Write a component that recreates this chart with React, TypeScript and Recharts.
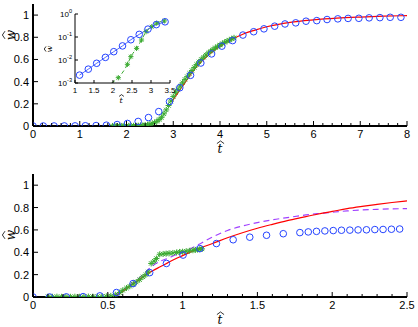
import React from 'react';
import { ComposedChart, Scatter, Line, XAxis, YAxis } from 'recharts';

// ---------- top panel data ----------
const topCircleT = [0, 0.22, 0.45, 0.67, 0.9, 1.12, 1.35, 1.57, 1.8, 2.02, 2.25, 2.47, 2.69, 2.92, 3.14, 3.37, 3.59, 3.82, 4.04, 4.27, 4.49, 4.72, 4.94, 5.17, 5.39, 5.62, 5.84, 6.07, 6.29, 6.52, 6.74, 6.97, 7.19, 7.42, 7.64, 7.87];
const topCircleW = [0, 0, 0.0003, 0.0006, 0.001, 0.0022, 0.004, 0.0072, 0.013, 0.023, 0.041, 0.076, 0.13, 0.22, 0.345, 0.457, 0.568, 0.65, 0.72, 0.77, 0.82, 0.85, 0.876, 0.9, 0.92, 0.93, 0.945, 0.95, 0.96, 0.966, 0.97, 0.971, 0.975, 0.977, 0.98, 0.98];

const topGreenT = [1.7, 1.75, 1.8, 1.85, 1.9, 1.95, 2.0, 2.05, 2.1, 2.15, 2.2, 2.25, 2.3, 2.35, 2.4, 2.45, 2.5, 2.55, 2.6, 2.65, 2.7, 2.75, 2.8, 2.85, 2.9, 2.95, 3.0, 3.05, 3.1, 3.15, 3.2, 3.25, 3.3, 3.35, 3.4, 3.45, 3.5, 3.55, 3.6, 3.65, 3.7, 3.75, 3.8, 3.85, 3.9, 3.95, 4.0, 4.05, 4.1, 4.15, 4.2, 4.25, 4.3];
const topGreenW = [0.0003, 0.0004, 0.0005, 0.0006, 0.0008, 0.0009, 0.0011, 0.0013, 0.0015, 0.0019, 0.0025, 0.0032, 0.0042, 0.0055, 0.0075, 0.011, 0.016, 0.022, 0.03, 0.042, 0.058, 0.078, 0.11, 0.145, 0.185, 0.225, 0.265, 0.3, 0.33, 0.36, 0.39, 0.42, 0.445, 0.475, 0.5, 0.528, 0.555, 0.578, 0.6, 0.62, 0.64, 0.658, 0.675, 0.69, 0.705, 0.718, 0.73, 0.743, 0.755, 0.765, 0.775, 0.785, 0.795];

const topRedT = [2.97, 3.1, 3.2, 3.3, 3.4, 3.5, 3.6, 3.7, 3.8, 3.9, 4.0, 4.25, 4.5, 4.75, 5.0, 5.5, 6.0, 6.5, 7.0, 7.5, 8.0];
const topRedW = [0.22, 0.3, 0.36, 0.42, 0.48, 0.535, 0.58, 0.62, 0.655, 0.69, 0.72, 0.78, 0.83, 0.865, 0.895, 0.935, 0.957, 0.972, 0.982, 0.99, 0.995];

// inset (log scale) green
const insetGreenT = [1.96, 2.14, 2.38, 2.47, 2.62, 2.75, 2.87, 3.02, 3.15, 3.35];
const insetGreenW = [0.001, 0.0017, 0.0065, 0.014, 0.032, 0.074, 0.17, 0.28, 0.4, 0.5];

// ---------- bottom panel data ----------
const botCircleT = [0, 0.111, 0.223, 0.335, 0.447, 0.558, 0.669, 0.78, 0.892, 1.003, 1.115, 1.226, 1.338, 1.449, 1.561, 1.673, 1.784, 1.84, 1.895, 1.951, 2.007, 2.062, 2.118, 2.173, 2.229, 2.285, 2.34, 2.396, 2.451];
const botCircleW = [0, 0, 0.001, 0.003, 0.01, 0.04, 0.12, 0.218, 0.3, 0.375, 0.433, 0.478, 0.512, 0.535, 0.552, 0.566, 0.576, 0.582, 0.587, 0.591, 0.594, 0.597, 0.598, 0.6, 0.601, 0.603, 0.604, 0.606, 0.608];

const botGreenT = [0.1, 0.13, 0.16, 0.19, 0.22, 0.25, 0.28, 0.31, 0.34, 0.37, 0.4, 0.43, 0.46, 0.49, 0.52, 0.55, 0.58, 0.6, 0.625, 0.647, 0.67, 0.69, 0.713, 0.735, 0.755, 0.77, 0.79, 0.81, 0.825, 0.847, 0.87, 0.89, 0.91, 0.935, 0.96, 0.98, 1.0, 1.024, 1.045, 1.069, 1.085, 1.1, 1.115, 1.13];
const botGreenW = [0.003, 0.002, 0.003, 0.002, 0.003, 0.002, 0.003, 0.002, 0.003, 0.004, 0.003, 0.004, 0.005, 0.006, 0.01, 0.02, 0.04, 0.06, 0.08, 0.096, 0.115, 0.134, 0.155, 0.18, 0.2, 0.224, 0.3, 0.32, 0.344, 0.382, 0.385, 0.388, 0.391, 0.394, 0.398, 0.403, 0.405, 0.409, 0.413, 0.418, 0.421, 0.424, 0.427, 0.43];

const botRedT = [0.54, 0.6, 0.65, 0.7, 0.75, 0.8, 0.85, 0.9, 0.95, 1.0, 1.1, 1.2, 1.3, 1.4, 1.5, 1.6, 1.7, 1.8, 1.9, 2.0, 2.1, 2.2, 2.3, 2.4, 2.5];
const botRedW = [0, 0.05, 0.1, 0.145, 0.195, 0.235, 0.27, 0.305, 0.34, 0.37, 0.43, 0.478, 0.53, 0.575, 0.615, 0.65, 0.683, 0.712, 0.74, 0.765, 0.79, 0.81, 0.828, 0.845, 0.86];

const botDashT = [0, 0.25, 0.5, 0.55, 0.6, 0.65, 0.7, 0.75, 0.8, 0.85, 0.9, 0.95, 1.0, 1.1, 1.2, 1.3, 1.4, 1.5, 1.6, 1.7, 1.8, 1.9, 2.0, 2.1, 2.2, 2.3, 2.4, 2.5];
const botDashW = [0, 0, 0.002, 0.02, 0.06, 0.11, 0.16, 0.22, 0.28, 0.32, 0.345, 0.375, 0.4, 0.465, 0.537, 0.595, 0.635, 0.665, 0.69, 0.71, 0.73, 0.745, 0.758, 0.77, 0.778, 0.784, 0.788, 0.79];

// ---------- ticks ----------
const topXMajor = [0, 1, 2, 3, 4, 5, 6, 7, 8];
const topXLabels = ['0', '1', '2', '3', '4', '5', '6', '7', '8'];
const botXMajor = [0, 0.5, 1, 1.5, 2, 2.5];
const botXLabels = ['0', '0.5', '1', '1.5', '2', '2.5'];
const yMajor = [0, 0.2, 0.4, 0.6, 0.8, 1];
const yLabels = ['0', '0.2', '0.4', '0.6', '0.8', '1'];
const insetXMajor = [1, 1.5, 2, 2.5, 3, 3.5];
const insetXLabels = ['1', '1.5', '2', '2.5', '3', '3.5'];
const insetYMajor = [0.001, 0.01, 0.1, 1];
const insetYExp = ['-3', '-2', '-1', '0'];

const zip = (t: number[], w: number[]) => t.map((x, i) => ({ t: x, w: w[i] }));
const withMinor = (majors: number[], step: number) => {
  const out: number[] = [];
  const lo = majors[0];
  const hi = majors[majors.length - 1];
  const n = Math.round((hi - lo) / step);
  for (let i = 0; i <= n; i++) out.push(+(lo + i * step).toFixed(6));
  return out;
};

const BLUE = '#2443ff';
const GREEN = '#3aaa30';
const RED = '#ff0000';
const PURPLE = '#a040ff';
const FONT = '"Liberation Sans", Arial, sans-serif';

type TickOpts = {
  side: 'bottom' | 'top' | 'left' | 'right';
  majors: number[];
  labels?: string[];
  sup?: string[];
  fontSize?: number;
  major: number;
  minor: number;
  gap?: number;
};

const makeTick = (o: TickOpts) => (props: any) => {
  const { x, y, payload } = props;
  const v = payload.value;
  const idx = o.majors.findIndex((m) => Math.abs(m - v) < 1e-9 + Math.abs(m) * 1e-6);
  const len = idx >= 0 ? o.major : o.minor;
  let x2 = x, y2 = y;
  if (o.side === 'bottom') y2 = y - len;
  if (o.side === 'top') y2 = y + len;
  if (o.side === 'left') x2 = x + len;
  if (o.side === 'right') x2 = x - len;
  const fs = o.fontSize || 11;
  const gap = o.gap || 0;
  let label: any = null;
  if (idx >= 0 && o.labels) {
    if (o.side === 'bottom') {
      label = (
        <text x={x} y={y + gap} textAnchor="middle" fontSize={fs} fontFamily={FONT} fill="#000">
          {o.labels[idx]}
        </text>
      );
    } else if (o.side === 'left') {
      label = (
        <text x={x - gap} y={y + fs * 0.36} textAnchor="end" fontSize={fs} fontFamily={FONT} fill="#000">
          {o.labels[idx]}
          {o.sup ? (
            <tspan dy={-fs * 0.45} fontSize={fs * 0.7}>
              {o.sup[idx]}
            </tspan>
          ) : null}
        </text>
      );
    }
  }
  return (
    <g>
      <line x1={x} y1={y} x2={x2} y2={y2} stroke="#000" strokeWidth={1} />
      {label}
    </g>
  );
};

const circleShape = (r: number) => (p: any) => (
  <circle cx={p.cx} cy={p.cy} r={r} fill="none" stroke={BLUE} strokeWidth={1} />
);
const starShape = (r: number) => (p: any) => {
  const { cx, cy } = p;
  const d = r * 0.72;
  return (
    <g stroke={GREEN} strokeWidth={1}>
      <line x1={cx - r} y1={cy} x2={cx + r} y2={cy} />
      <line x1={cx} y1={cy - r} x2={cx} y2={cy + r} />
      <line x1={cx - d} y1={cy - d} x2={cx + d} y2={cy + d} />
      <line x1={cx - d} y1={cy + d} x2={cx + d} y2={cy - d} />
    </g>
  );
};

const axisLine = { stroke: '#000', strokeWidth: 2 };

function TopChart() {
  const xt = withMinor(topXMajor, 0.2);
  return (
    <ComposedChart width={418} height={160} margin={{ top: 4, right: 11, bottom: 14, left: 0 }}>
      <XAxis dataKey="t" type="number" domain={[0, 8]} ticks={xt} interval={0} height={20} tickSize={0} tickMargin={0}
        axisLine={axisLine} tickLine={false} allowDataOverflow
        tick={makeTick({ side: 'bottom', majors: topXMajor, labels: topXLabels, major: 5, minor: 3, gap: 12 })} />
      <XAxis xAxisId="top" orientation="top" dataKey="t" type="number" domain={[0, 8]} ticks={xt} interval={0} height={0}
        tickSize={0} tickMargin={0} axisLine={axisLine} tickLine={false} allowDataOverflow
        tick={makeTick({ side: 'top', majors: topXMajor, major: 5, minor: 3 })} />
      <YAxis dataKey="w" type="number" domain={[0, 1.1]} ticks={yMajor} interval={0} width={33} tickSize={0} tickMargin={0}
        axisLine={axisLine} tickLine={false} allowDataOverflow
        tick={makeTick({ side: 'left', majors: yMajor, labels: yLabels, major: 5, minor: 3, gap: 4 })} />
      <YAxis yAxisId="right" orientation="right" type="number" domain={[0, 1.1]} ticks={yMajor} interval={0} width={0}
        tickSize={0} tickMargin={0} axisLine={axisLine} tickLine={false} allowDataOverflow
        tick={makeTick({ side: 'right', majors: yMajor, major: 5, minor: 3 })} />
      <Scatter data={zip(topGreenT, topGreenW)} dataKey="w" shape={starShape(3)} isAnimationActive={false} />
      <Line data={zip(topRedT, topRedW)} dataKey="w" type="monotone" stroke={RED} strokeWidth={1.2} dot={false} isAnimationActive={false} />
      <Scatter data={zip(topCircleT, topCircleW)} dataKey="w" shape={circleShape(3.3)} isAnimationActive={false} />
    </ComposedChart>
  );
}

function InsetChart() {
  const circles = zip(topCircleT, topCircleW).filter((d) => d.t >= 1 && d.t <= 3.5 && d.w >= 0.001);
  const green = zip(insetGreenT, insetGreenW);
  return (
    <ComposedChart width={140} height={110} margin={{ top: 14, right: 10, bottom: 7, left: 0 }}>
      <XAxis dataKey="t" type="number" domain={[1, 3.5]} ticks={insetXMajor} interval={0} height={20} tickSize={0} tickMargin={0}
        axisLine={{ stroke: '#000', strokeWidth: 1 }} tickLine={false} allowDataOverflow
        tick={makeTick({ side: 'bottom', majors: insetXMajor, labels: insetXLabels, fontSize: 8, major: 3, minor: 2, gap: 10 })} />
      <XAxis xAxisId="top" orientation="top" type="number" domain={[1, 3.5]} ticks={insetXMajor} interval={0} height={0}
        tickSize={0} tickMargin={0} axisLine={{ stroke: '#000', strokeWidth: 1 }} tickLine={false} allowDataOverflow
        tick={makeTick({ side: 'top', majors: insetXMajor, major: 3, minor: 2 })} />
      <YAxis dataKey="w" type="number" scale="log" domain={[0.001, 1]} ticks={insetYMajor} interval={0} width={35}
        tickSize={0} tickMargin={0} axisLine={{ stroke: '#000', strokeWidth: 1 }} tickLine={false} allowDataOverflow
        tick={makeTick({ side: 'left', majors: insetYMajor, labels: ['10', '10', '10', '10'], sup: insetYExp, fontSize: 8, major: 3, minor: 2, gap: 3 })} />
      <YAxis yAxisId="right" orientation="right" type="number" scale="log" domain={[0.001, 1]} ticks={insetYMajor} interval={0}
        width={0} tickSize={0} tickMargin={0} axisLine={{ stroke: '#000', strokeWidth: 1 }} tickLine={false} allowDataOverflow
        tick={makeTick({ side: 'right', majors: insetYMajor, major: 3, minor: 2 })} />
      <Line data={green} dataKey="w" type="monotone" stroke={GREEN} strokeWidth={1} strokeDasharray="4 3" dot={false} isAnimationActive={false} />
      <Scatter data={green.slice(1)} dataKey="w" shape={starShape(2.6)} isAnimationActive={false} />
      <Line data={circles} dataKey="w" type="linear" stroke={BLUE} strokeWidth={0.8} dot={false} isAnimationActive={false} />
      <Scatter data={circles} dataKey="w" shape={circleShape(3.3)} isAnimationActive={false} />
    </ComposedChart>
  );
}

function BottomChart() {
  const xt = withMinor(botXMajor, 0.1);
  return (
    <ComposedChart width={418} height={167} margin={{ top: 14, right: 11, bottom: 10, left: 0 }}>
      <XAxis dataKey="t" type="number" domain={[0, 2.5]} ticks={xt} interval={0} height={20} tickSize={0} tickMargin={0}
        axisLine={axisLine} tickLine={false} allowDataOverflow
        tick={makeTick({ side: 'bottom', majors: botXMajor, labels: botXLabels, major: 5, minor: 3, gap: 12 })} />
      <XAxis xAxisId="top" orientation="top" type="number" domain={[0, 2.5]} ticks={xt} interval={0} height={0}
        tickSize={0} tickMargin={0} axisLine={axisLine} tickLine={false} allowDataOverflow
        tick={makeTick({ side: 'top', majors: botXMajor, major: 5, minor: 3 })} />
      <YAxis dataKey="w" type="number" domain={[0, 1.1]} ticks={yMajor} interval={0} width={33} tickSize={0} tickMargin={0}
        axisLine={axisLine} tickLine={false} allowDataOverflow
        tick={makeTick({ side: 'left', majors: yMajor, labels: yLabels, major: 5, minor: 3, gap: 4 })} />
      <YAxis yAxisId="right" orientation="right" type="number" domain={[0, 1.1]} ticks={yMajor} interval={0} width={0}
        tickSize={0} tickMargin={0} axisLine={axisLine} tickLine={false} allowDataOverflow
        tick={makeTick({ side: 'right', majors: yMajor, major: 5, minor: 3 })} />
      <Line data={zip(botDashT, botDashW)} dataKey="w" type="monotone" stroke={PURPLE} strokeWidth={1.2} strokeDasharray="6 4" dot={false} isAnimationActive={false} />
      <Scatter data={zip(botGreenT, botGreenW)} dataKey="w" shape={starShape(3)} isAnimationActive={false} />
      <Line data={zip(botRedT, botRedW)} dataKey="w" type="monotone" stroke={RED} strokeWidth={1.2} dot={false} isAnimationActive={false} />
      <Scatter data={zip(botCircleT, botCircleW)} dataKey="w" shape={circleShape(3.3)} isAnimationActive={false} />
    </ComposedChart>
  );
}

const titleFont = '"DejaVu Serif", serif';

// hatted axis titles: the letter is text, the wide hat is drawn as a small stroke above it
const RotLabel = ({ cx, cy, letter, size }: { cx: number; cy: number; letter: string; size: number }) => {
  const hw = size * 0.32;
  const hy = -size * 0.5;
  return (
    <g transform={`translate(${cx},${cy}) rotate(-90)`}>
      <text x={0} y={size * 0.3} textAnchor="middle" fontSize={size} fontStyle="italic" fontFamily={titleFont}>{letter}</text>
      <polyline points={`${-hw},${hy} 0,${hy - size * 0.22} ${hw},${hy}`} fill="none" stroke="#000" strokeWidth={0.8} />
    </g>
  );
};
const HatLabel = ({ cx, cy, letter, size }: { cx: number; cy: number; letter: string; size: number }) => {
  const hw = size * 0.3;
  const hy = cy - size * 0.45;
  return (
    <g>
      <text x={cx} y={cy + size * 0.35} textAnchor="middle" fontSize={size} fontStyle="italic" fontFamily={titleFont}>{letter}</text>
      <polyline points={`${cx + 0.5 - hw},${hy} ${cx + 0.5},${hy - size * 0.22} ${cx + 0.5 + hw},${hy}`} fill="none" stroke="#000" strokeWidth={0.8} />
    </g>
  );
};

export default function App() {
  return (
    <div style={{ position: 'absolute', left: 0, top: 0, width: 418, height: 327, background: '#fff', overflow: 'hidden' }}>
      <div style={{ position: 'absolute', left: 0, top: 0 }}>
        <TopChart />
      </div>
      <div style={{ position: 'absolute', left: 40, top: 0 }}>
        <InsetChart />
      </div>
      <div style={{ position: 'absolute', left: 0, top: 160 }}>
        <BottomChart />
      </div>
      <svg width={418} height={327} style={{ position: 'absolute', left: 0, top: 0, pointerEvents: 'none' }}>
        <RotLabel cx={11} cy={35} letter="w" size={12} />
        <HatLabel cx={220} cy={149} letter="t" size={12} />
        <RotLabel cx={11} cy={235} letter="w" size={12} />
        <HatLabel cx={220} cy={320} letter="t" size={12} />
        <RotLabel cx={50} cy={49} letter="w" size={8} />
        <HatLabel cx={121} cy={100} letter="t" size={8} />
      </svg>
    </div>
  );
}
